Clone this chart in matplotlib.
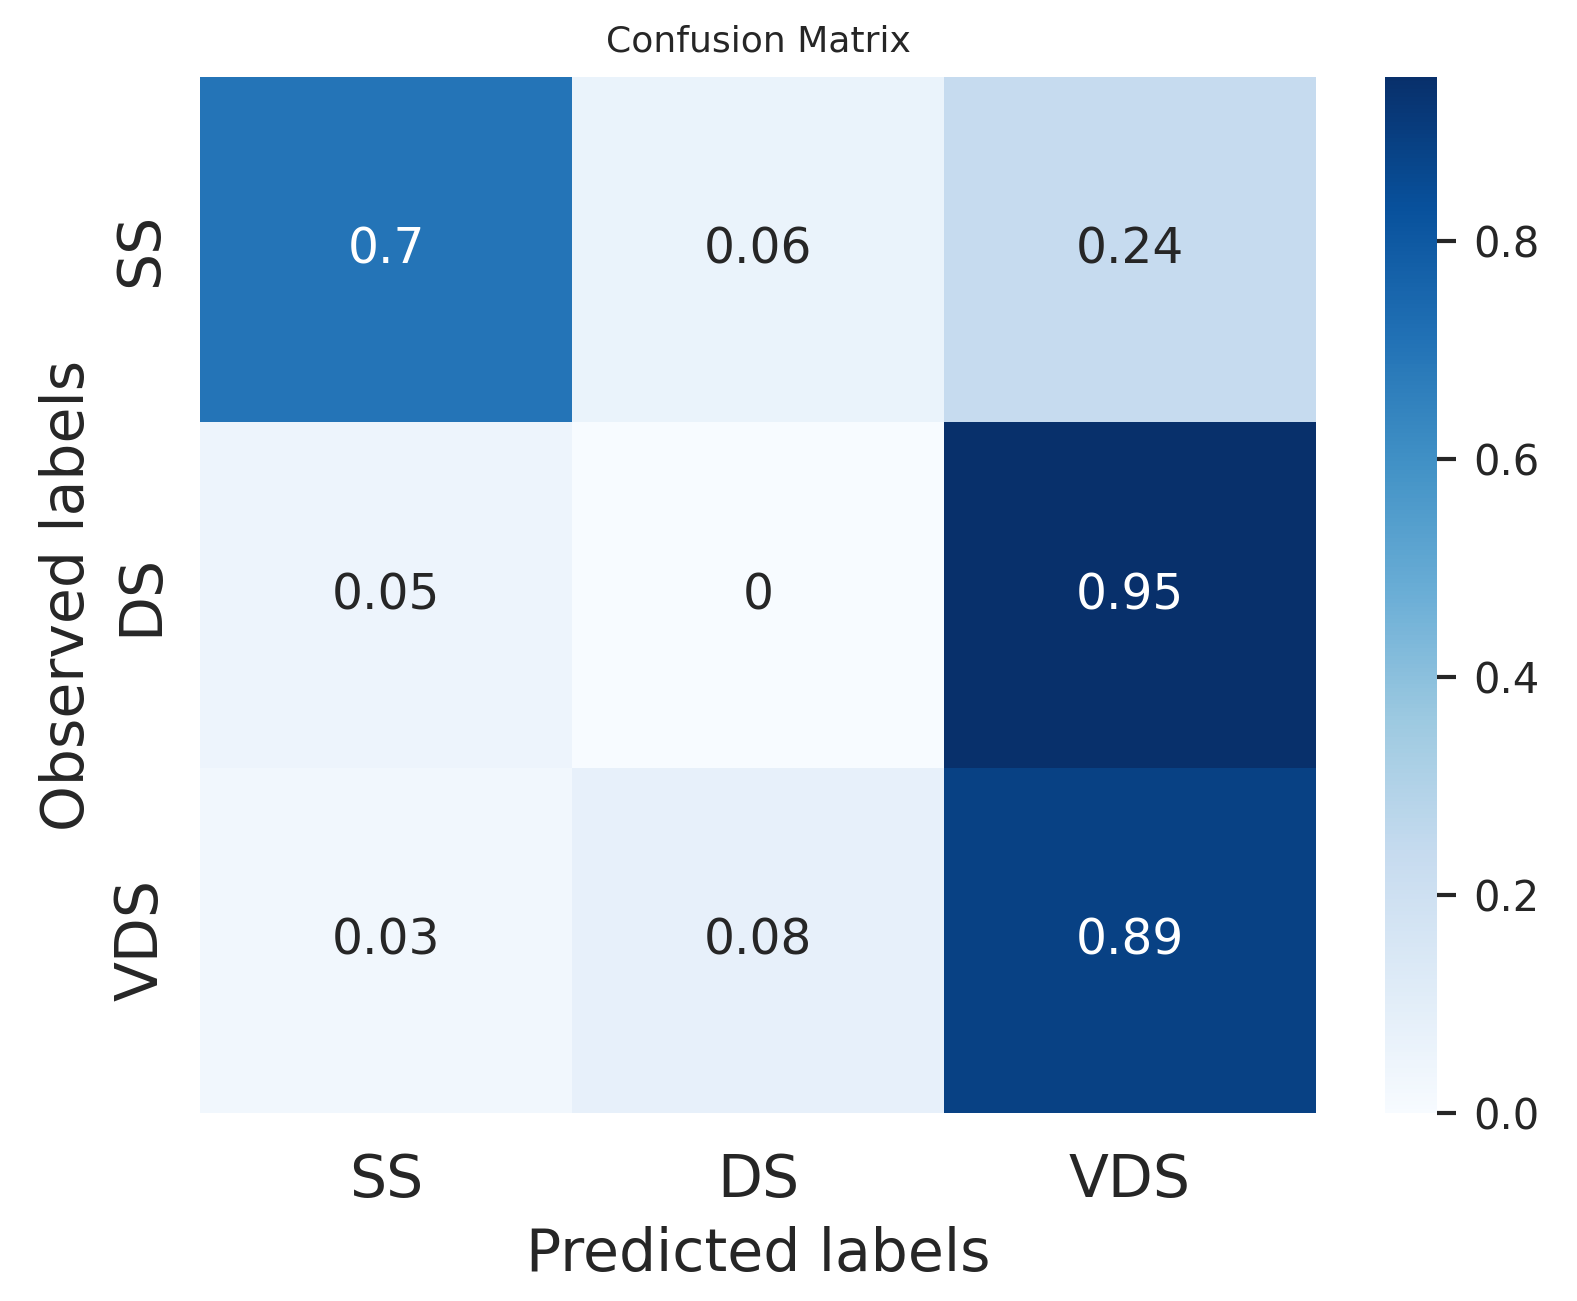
import numpy as np
import matplotlib
matplotlib.use("Agg")
import matplotlib.pyplot as plt
import seaborn as sns

labels = ["SS", "DS", "VDS"]
cm = np.array([
    [0.70, 0.06, 0.24],
    [0.05, 0.00, 0.95],
    [0.03, 0.08, 0.89],
])

sns.set_theme(style="white")
plt.rcParams['font.family'] = ['DejaVu Sans']

fig = plt.figure(figsize=(15.77, 13.01), dpi=100)
ax = fig.add_axes([200 / 1577, 1 - 1113 / 1301, 1116 / 1577, 1036 / 1301])
cax = fig.add_axes([1385 / 1577, 1 - 1113 / 1301, 52 / 1577, 1036 / 1301])

sns.heatmap(cm, annot=True, fmt="g", cmap="Blues", ax=ax, cbar_ax=cax,
            annot_kws={"size": 35}, xticklabels=labels, yticklabels=labels)

ax.set_title("Confusion Matrix", fontsize=26, color="#262626", pad=18)
ax.set_xlabel("Predicted labels", fontsize=42, color="#262626", labelpad=12)
ax.set_ylabel("Observed labels", fontsize=42, color="#262626", labelpad=12)
ax.tick_params(axis="both", length=0, labelsize=42, colors="#262626", pad=28)
ax.tick_params(axis="y", labelrotation=90, pad=22)
for t in ax.get_yticklabels():
    t.set_va("center")

cax.tick_params(labelsize=30, length=14, width=3, colors="#262626", pad=12)
cax.set_yticks([0.0, 0.2, 0.4, 0.6, 0.8])
cax.set_yticklabels(["0.0", "0.2", "0.4", "0.6", "0.8"])

fig.savefig("out.png", dpi=100, facecolor="white")
